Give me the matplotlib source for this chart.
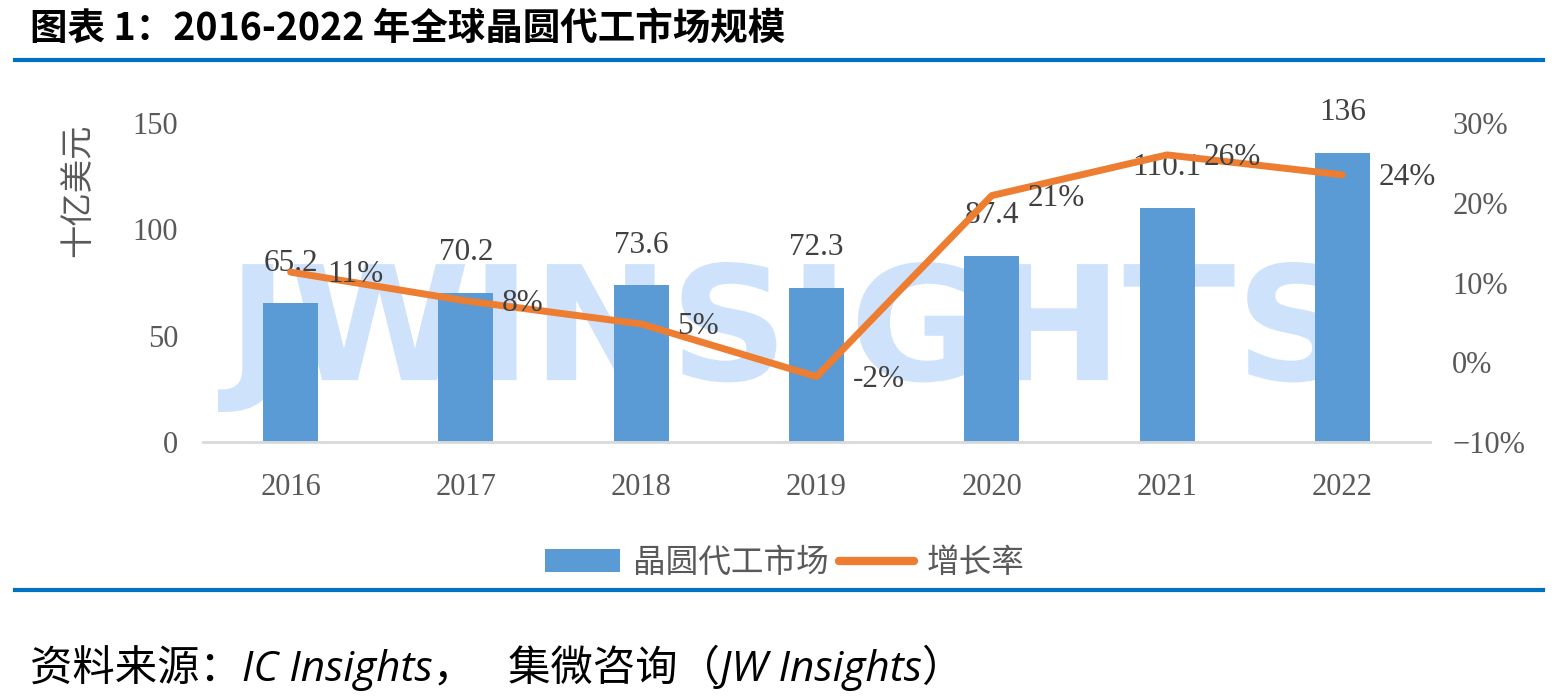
import matplotlib
matplotlib.use("Agg")
import matplotlib.pyplot as plt
from matplotlib.lines import Line2D
from matplotlib.patches import Patch, PathPatch
from matplotlib.textpath import TextPath
from matplotlib.font_manager import FontProperties
from matplotlib.transforms import Affine2D
from matplotlib.ticker import FuncFormatter

years = ["2016", "2017", "2018", "2019", "2020", "2021", "2022"]
market = [65.2, 70.2, 73.6, 72.3, 87.4, 110.1, 136]
market_labels = ["65.2", "70.2", "73.6", "72.3", "87.4", "110.1", "136"]
growth = [11.3, 7.7, 4.8, -1.8, 20.9, 26.0, 23.5]
growth_labels = ["11%", "8%", "5%", "-2%", "21%", "26%", "24%"]

BLUE = "#5B9BD5"
ORANGE = "#ED7D31"
GRAY = "#595959"
NUM = ["Liberation Serif", "Noto Sans CJK SC"]
CJK = ["Noto Sans CJK SC", "DejaVu Sans"]

plt.rcParams["font.family"] = NUM

W, H = 1558, 700
fig = plt.figure(figsize=(W / 100, H / 100), dpi=100)
fig.patch.set_facecolor("white")

ax = fig.add_axes([203 / W, 1 - 442 / H, (1430 - 203) / W, (442 - 123) / H])
ax.patch.set_visible(False)
ax2 = ax.twinx()

x = list(range(len(years)))
ax.bar(x, market, width=0.314, color=BLUE, zorder=2)
for xi, v, lab in zip(x, market, market_labels):
    ax.annotate(lab, (xi, v), xytext=(0, 29), textcoords="offset points",
                ha="center", va="center", fontsize=22.5, color="#404040")

ax.set_xlim(-0.5, 6.5)
ax.set_ylim(0, 150)
ax.set_yticks([0, 50, 100, 150])
ax.set_xticks(x)
ax.set_xticklabels(years)
ax.tick_params(axis="both", length=0, labelsize=22, colors=GRAY)
ax.tick_params(axis="x", pad=22)
ax.tick_params(axis="y", pad=18)
for s in ["top", "left", "right"]:
    ax.spines[s].set_visible(False)
ax.spines["bottom"].set_color("#D9D9D9")
ax.spines["bottom"].set_linewidth(2)
ax.set_ylabel("十亿美元", family=CJK, fontsize=24, color=GRAY)
ax.yaxis.set_label_coords(-0.088, 0.79)

ax2.plot(x, growth, color=ORANGE, lw=5, solid_capstyle="round",
         solid_joinstyle="round", zorder=3)
for xi, g, lab in zip(x, growth, growth_labels):
    ax2.annotate(lab, (xi, g), xytext=(26, -2), textcoords="offset points",
                 ha="left", va="center", fontsize=22.5, color="#404040")
ax2.set_ylim(-10, 30)
ax2.set_yticks([-10, 0, 10, 20, 30])
ax2.yaxis.set_major_formatter(FuncFormatter(lambda v, p: f"{v:.0f}%".replace("-", "\u2212")))
ax2.tick_params(axis="y", length=0, labelsize=22, colors=GRAY, pad=16)
for s in ["top", "left", "right", "bottom"]:
    ax2.spines[s].set_visible(False)

# watermark behind the chart
tp = TextPath((0, 0), "JWINSIGHTS", size=100,
              prop=FontProperties(family="DejaVu Sans", weight="bold"))
bb = tp.get_extents()
x0, y0 = 218 / W, 1 - 412 / H
ww, hh = (1342 - 218) / W, 150 / H
aff = Affine2D().translate(-bb.x0, -bb.y0).scale(ww / bb.width, hh / bb.height).translate(x0, y0)
wm = PathPatch(aff.transform_path(tp), transform=fig.transFigure,
               facecolor="#CFE2FB", edgecolor="none", zorder=-1)
fig.add_artist(wm)

handles = [Patch(facecolor=BLUE), Line2D([0], [0], color=ORANGE, lw=6, solid_capstyle="round")]
fig.legend(handles, ["晶圆代工市场", "增长率"], loc="center", bbox_to_anchor=(785 / W, 1 - 563 / H),
           ncol=2, frameon=False, prop=FontProperties(family=CJK, size=23.5),
           labelcolor=GRAY, handlelength=2.3, handletextpad=0.4, columnspacing=0.3)

# title, rules and source
fig.text(30 / W, 1 - 28 / H, "图表 1：2016-2022 年全球晶圆代工市场规模",
         family=CJK, fontsize=27, fontweight="bold", ha="left", va="center")
for yy in [60, 590]:
    fig.add_artist(Line2D([15 / W, 1543 / W], [1 - yy / H] * 2, color="#0070C0", lw=3))
fig.text(30 / W, 1 - 668 / H, "资料来源：IC Insights，   集微咨询（JW Insights）",
         family=["Open Sans", "Noto Sans CJK SC"], fontsize=30.5, ha="left", va="center",
         style="italic")

fig.savefig("out.png", dpi=100, facecolor="white")
